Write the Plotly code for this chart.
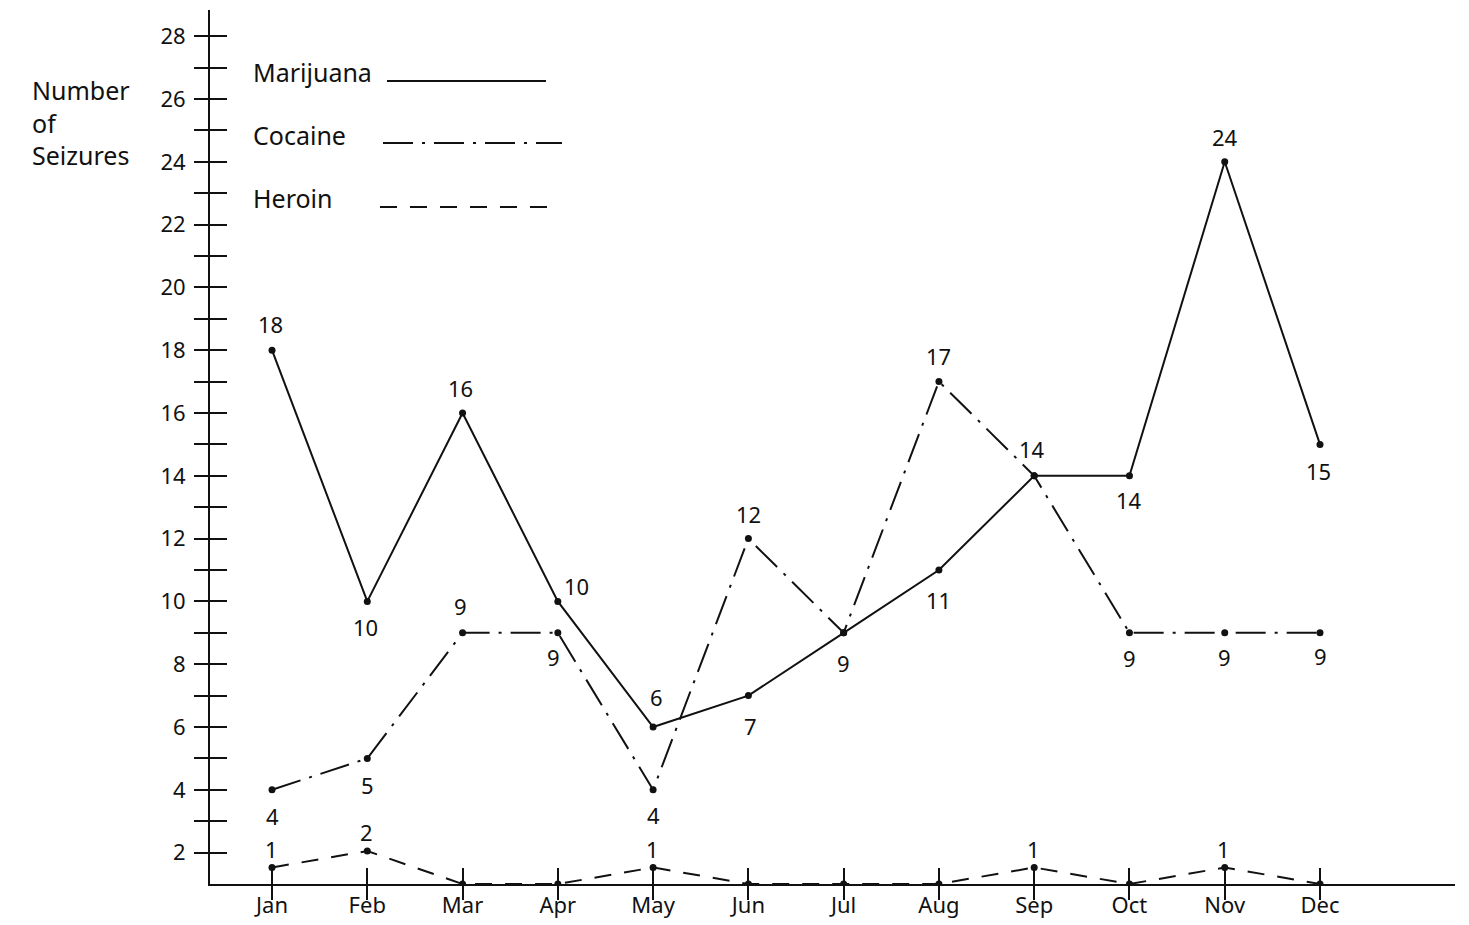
import plotly.graph_objects as go

# ---- data ----
months = ["Jan", "Feb", "Mar", "Apr", "May", "Jun", "Jul", "Aug", "Sep", "Oct", "Nov", "Dec"]
marijuana = [18, 10, 16, 10, 6, 7, 9, 11, 14, 14, 24, 15]
cocaine = [4, 5, 9, 9, 4, 12, 9, 17, 14, 9, 9, 9]
heroin = [1, 2, 0, 0, 1, 0, 0, 0, 1, 0, 1, 0]
y_ticks = list(range(2, 29))

# label placement (pixels relative to point; style only)
mj_dy = [-26, 26, -25, -15, -30, 30, 30, 30, -27, 24, -25, 27]
mj_dx = [-2, -2, -2, 19, 3, 2, 0, 0, -2, 0, 0, -2]
coc_show = [True, True, True, True, True, True, False, True, False, True, True, True]
coc_dy = [26, 27, -27, 24, 25, -25, 0, -26, 0, 25, 24, 23]
coc_dx = [0, 0, -2, -4, 0, 0, 0, 0, 0, 0, 0, 0]

FONT = "Noto Sans"
INK = "#111111"

W, H = 1469, 925
L, R, T, B = 210, 14, 10, 41
plot_w = W - L - R
plot_h = H - T - B

x_idx = list(range(len(months)))
x_range = [-0.651, 12.417]
y_range = [1, 1 + plot_h / 31.4]
y2_range = [0, plot_h / 16.5]


def px2x(p):
    return (p - L) / plot_w


def py2y(p):
    return (H - B - p) / plot_h


fig = go.Figure()

fig.add_trace(go.Scatter(
    x=x_idx, y=marijuana, mode="lines+markers", name="Marijuana",
    line=dict(color=INK, width=2), marker=dict(color=INK, size=7),
    xaxis="x", yaxis="y", showlegend=False, hoverinfo="skip"))
fig.add_trace(go.Scatter(
    x=x_idx, y=cocaine, mode="lines+markers", name="Cocaine",
    line=dict(color=INK, width=2, dash="30px,9px,3px,9px"), marker=dict(color=INK, size=7),
    xaxis="x", yaxis="y", showlegend=False, hoverinfo="skip"))
fig.add_trace(go.Scatter(
    x=x_idx, y=heroin, mode="lines+markers", name="Heroin",
    line=dict(color=INK, width=2, dash="17px,13px"), marker=dict(color=INK, size=7),
    xaxis="x", yaxis="y2", showlegend=False, hoverinfo="skip"))
# invisible traces for the overlay axes (tick marks that cross the axis lines)
fig.add_trace(go.Scatter(x=[x_idx[0]], y=[y_ticks[0]], mode="markers",
                         marker=dict(opacity=0), xaxis="x2", yaxis="y3",
                         showlegend=False, hoverinfo="skip"))
fig.add_trace(go.Scatter(x=[x_idx[0]], y=[y_ticks[0]], mode="markers",
                         marker=dict(opacity=0), xaxis="x3", yaxis="y",
                         showlegend=False, hoverinfo="skip"))

annotations = []
lab_font = dict(family=FONT, size=22, color=INK)
for i, v in enumerate(marijuana):
    annotations.append(dict(x=x_idx[i], y=v, xref="x", yref="y", text=str(v),
                            showarrow=False, xshift=mj_dx[i], yshift=-mj_dy[i], font=lab_font))
for i, v in enumerate(cocaine):
    if coc_show[i]:
        annotations.append(dict(x=x_idx[i], y=v, xref="x", yref="y", text=str(v),
                                showarrow=False, xshift=coc_dx[i], yshift=-coc_dy[i], font=lab_font))
for i, v in enumerate(heroin):
    if v > 0:
        annotations.append(dict(x=x_idx[i], y=v, xref="x", yref="y2", text=str(v),
                                showarrow=False, xshift=-1, yshift=19, font=lab_font))

# axis title
annotations.append(dict(x=px2x(30), y=py2y(122), xref="paper", yref="paper",
                        xanchor="left", yanchor="middle", align="left", showarrow=False,
                        text="Number<br>of<br>Seizures",
                        font=dict(family=FONT, size=25, color=INK)))

# custom legend (text then line sample)
legend_items = [("Marijuana", 72, 387, 546, 81, "solid"),
                ("Cocaine", 135, 383, 562, 143, "30px,9px,3px,9px"),
                ("Heroin", 198, 380, 558, 207, "17px,13px")]
shapes = []
for name, ty, lx0, lx1, ly, dash in legend_items:
    annotations.append(dict(x=px2x(251), y=py2y(ty), xref="paper", yref="paper",
                            xanchor="left", yanchor="middle", showarrow=False, text=name,
                            font=dict(family=FONT, size=25, color=INK)))
    shapes.append(dict(type="line", xref="paper", yref="paper",
                       x0=px2x(lx0), x1=px2x(lx1), y0=py2y(ly), y1=py2y(ly),
                       line=dict(color=INK, width=2, dash=dash)))

fig.update_layout(
    width=W, height=H, autosize=False,
    margin=dict(l=L, r=R, t=T, b=B, autoexpand=False),
    paper_bgcolor="white", plot_bgcolor="white",
    font=dict(family=FONT, color=INK),
    xaxis=dict(range=x_range, tickvals=x_idx, ticktext=months, showgrid=False, zeroline=False,
               automargin=False,
               showline=True, linecolor=INK, linewidth=2, ticks="", ticklabelstandoff=1,
               tickfont=dict(family=FONT, size=22, color=INK)),
    xaxis2=dict(range=x_range, overlaying="x", tickvals=x_idx, showticklabels=False,
                automargin=False,
                showgrid=False, zeroline=False, showline=False, ticks="inside", ticklen=16,
                tickwidth=2, tickcolor=INK),
    xaxis3=dict(range=x_range, overlaying="x", tickvals=x_idx, showticklabels=False,
                automargin=False,
                showgrid=False, zeroline=False, showline=False, ticks="outside", ticklen=15,
                tickwidth=2, tickcolor=INK),
    yaxis=dict(range=y_range, tickvals=y_ticks,
               ticktext=[str(t) if t % 2 == 0 else "" for t in y_ticks],
               automargin=False,
               showgrid=False, zeroline=False, showline=True, linecolor=INK, linewidth=2,
               ticks="outside", ticklen=14, tickwidth=2, tickcolor=INK, ticklabelstandoff=4,
               tickfont=dict(family=FONT, size=22, color=INK)),
    yaxis3=dict(range=y_range, overlaying="y", tickvals=y_ticks, showticklabels=False,
                automargin=False,
                showgrid=False, zeroline=False, showline=False, ticks="inside", ticklen=17,
                tickwidth=2, tickcolor=INK),
    yaxis2=dict(range=y2_range, overlaying="y", visible=False, automargin=False),
    annotations=annotations,
    shapes=shapes,
)

fig.write_html("out.html",
               config={"responsive": False, "displayModeBar": False},
               post_script="document.body.style.margin='0px';")
